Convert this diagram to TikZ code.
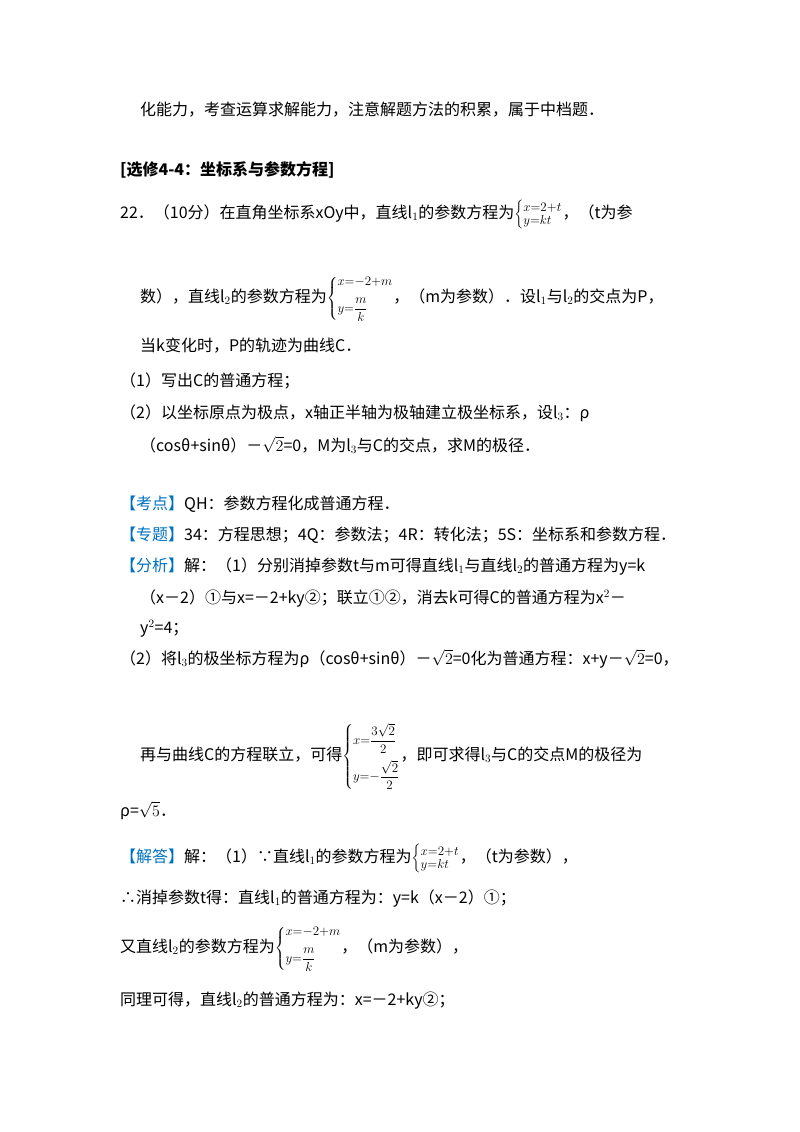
\RequirePackage{fix-cm}
\documentclass[tikz,border=0pt]{standalone}
\usepackage{amsmath}
\usepackage{fontspec}
\setmainfont{Noto Sans CJK SC}
\definecolor{kblue}{RGB}{0,112,192}
\begin{document}
\begin{tikzpicture}[x=1pt,y=-1pt,
 tx/.style={anchor=base west,inner sep=0pt,font=\fontsize{16}{18}\selectfont}]
\useasboundingbox (0,0) rectangle (800,1132);
\newcommand{\tg}[1]{{\color{kblue}#1}}
\newcommand{\sm}{\fontsize{13}{14}\selectfont}
\newcommand{\sysA}{{\sm$\left\{\begin{array}{@{}l@{}}x{=}2{+}t\\[-1pt] y{=}kt\end{array}\right.$}}
\newcommand{\sysB}{{\sm$\left\{\begin{array}{@{}l@{}}x{=}{-}2{+}m\\[8pt] y{=}\dfrac{m}{k}\end{array}\right.$}}
\newcommand{\sysC}{{\sm$\left\{\begin{array}{@{}l@{}}x{=}\dfrac{3\sqrt{2}}{2}\\[12pt] y{=}{-}\dfrac{\sqrt{2}}{2}\end{array}\right.$}}
\node[tx] (l1) at (140,115) {化能力，考查运算求解能力，注意解题方法的积累，属于中档题．};
\node[tx] (l2) at (120,175) {\textbf{[选修4-4：坐标系与参数方程]}};
\node[tx] (l3) at (120,218) {22．（10分）在直角坐标系xOy中，直线l$_1$的参数方程为\sysA，（t为参};
\node[tx] (l4) at (140,302) {数），直线l$_2$的参数方程为\sysB，（m为参数）．设l$_1$与l$_2$的交点为P，};
\node[tx] (l5) at (140,351) {当k变化时，P的轨迹为曲线C．};
\node[tx] (l6) at (120,386) {（1）写出C的普通方程；};
\node[tx] (l7) at (120,418) {（2）以坐标原点为极点，x轴正半轴为极轴建立极坐标系，设l$_3$：ρ};
\node[tx] (l8) at (140,451) {（cosθ+sinθ）－$\sqrt{2}$=0，M为l$_3$与C的交点，求M的极径．};
\node[tx] (l9) at (120,509) {\tg{【考点】}QH：参数方程化成普通方程．};
\node[tx] (l10) at (120,540) {\tg{【专题】}34：方程思想；4Q：参数法；4R：转化法；5S：坐标系和参数方程．};
\node[tx] (l11) at (120,571) {\tg{【分析】}解：（1）分别消掉参数t与m可得直线l$_1$与直线l$_2$的普通方程为y=k};
\node[tx] (l12) at (140,603) {（x－2）①与x=－2+ky②；联立①②，消去k可得C的普通方程为x$^2$－};
\node[tx] (l13) at (140,633) {y$^2$=4；};
\node[tx] (l14) at (120,664) {（2）将l$_3$的极坐标方程为ρ（cosθ+sinθ）－$\sqrt{2}$=0化为普通方程：x+y－$\sqrt{2}$=0，};
\node[tx] (l15) at (140,760) {再与曲线C的方程联立，可得\sysC，即可求得l$_3$与C的交点M的极径为};
\node[tx] (l16) at (120,816) {ρ=$\sqrt{5}$．};
\node[tx] (l17) at (120,862) {\tg{【解答】}解：（1）∵直线l$_1$的参数方程为\sysA，（t为参数），};
\node[tx] (l18) at (120,903) {∴消掉参数t得：直线l$_1$的普通方程为：y=k（x－2）①；};
\node[tx] (l19) at (120,952) {又直线l$_2$的参数方程为\sysB，（m为参数），};
\node[tx] (l20) at (120,1005) {同理可得，直线l$_2$的普通方程为：x=－2+ky②；};
\end{tikzpicture}
\end{document}
